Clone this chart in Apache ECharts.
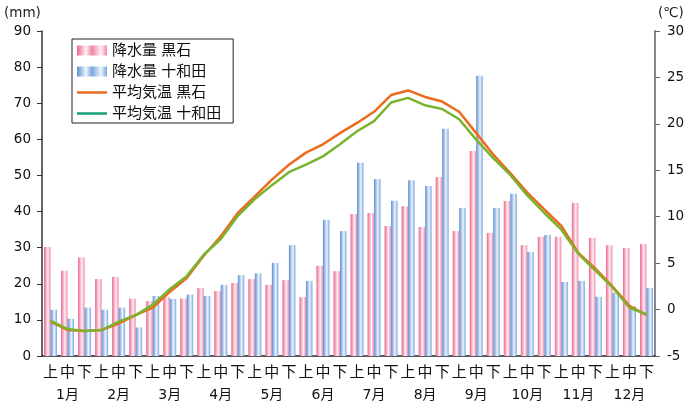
<!DOCTYPE html>
<html><head><meta charset="utf-8">
<script src="https://cdn.jsdelivr.net/npm/echarts@6/dist/echarts.min.js"></script>
<style>html,body{margin:0;padding:0;background:#fff}#c{width:699px;height:405px}</style>
</head><body><div id="c"></div>
<script>
const months = ['1月','2月','3月','4月','5月','6月','7月','8月','9月','10月','11月','12月'];
const periods = ['上','中','下'];
const rainKuroishi = [30.2,23.6,27.3, 21.3,21.9,15.9, 15.2,16.4,15.9, 18.8,18.0,20.2, 21.3,19.7,21.0, 16.3,25.0,23.5, 39.3,39.6,36.0, 41.5,35.7,49.6, 34.6,56.8,34.1, 42.9,30.7,33.0, 33.0,42.4,32.7, 30.7,29.9,31.0];
const rainTowada = [12.8,10.3,13.4, 12.8,13.4,7.9, 16.6,15.8,17.0, 16.6,19.7,22.4, 22.9,25.8,30.7, 20.8,37.7,34.6, 53.5,49.0,43.0, 48.7,47.1,62.9, 41.0,77.6,41.0, 44.9,28.8,33.5, 20.5,20.8,16.4, 17.5,13.8,18.8];
const tempKuroishi = [-1.3,-2.2,-2.3, -2.2,-1.5,-0.6, 0.2,1.9,3.4, 5.8,7.9,10.4, 12.2,14.0,15.6, 16.9,17.8,19.0, 20.1,21.3,23.1, 23.6,22.9,22.4, 21.3,19.0,16.7, 14.7,12.6,10.8, 9.0,6.1,4.4, 2.5,0.4,-0.6];
const tempTowada = [-1.2,-2.1,-2.3, -2.2,-1.3,-0.6, 0.5,2.2,3.6, 5.9,7.6,10.1, 11.9,13.4,14.8, 15.6,16.5,17.8, 19.2,20.3,22.3, 22.8,22.0,21.6, 20.5,18.3,16.3, 14.5,12.3,10.4, 8.6,6.0,4.2, 2.4,0.2,-0.5];

const cats = [];
months.forEach(m => periods.forEach(p => cats.push(m + p)));

const font = "'Liberation Sans','Noto Sans CJK JP',sans-serif";
const numFont = "'DejaVu Sans','Noto Sans CJK JP',sans-serif";
const pinkGrad = {type:'linear',x:0,y:0,x2:1,y2:0,colorStops:[{offset:0,color:'#e9658c'},{offset:0.6,color:'#fff0f4'},{offset:1,color:'#ef86a5'}]};
const blueGrad = {type:'linear',x:0,y:0,x2:1,y2:0,colorStops:[{offset:0,color:'#5a8ed2'},{offset:0.6,color:'#eef4fc'},{offset:1,color:'#79a5de'}]};
const pinkLeg = {type:'linear',x:0,y:0,x2:1,y2:0,colorStops:[{offset:0,color:'#e9658c'},{offset:0.3,color:'#fff0f4'},{offset:0.5,color:'#ef86a5'},{offset:0.8,color:'#fff0f4'},{offset:1,color:'#ef86a5'}]};
const blueLeg = {type:'linear',x:0,y:0,x2:1,y2:0,colorStops:[{offset:0,color:'#5a8ed2'},{offset:0.3,color:'#eef4fc'},{offset:0.5,color:'#79a5de'},{offset:0.8,color:'#eef4fc'},{offset:1,color:'#79a5de'}]};
const lineIcon = 'path://M0,0L0.01,0L0.01,0.01ZM29.99,10L30,10L30,9.99ZM0,3.8L30,3.8L30,6.2L0,6.2Z';

const chart = echarts.init(document.getElementById('c'), null, {renderer:'canvas'});
chart.setOption({
  animation:false,
  textStyle:{fontFamily:font},
  grid:{left:42,right:44,top:31,bottom:49},
  graphic:[
    {type:'text',left:4,top:7,style:{text:'(mm)',font:"13.5px "+numFont,fill:'#222'}},
    {type:'text',left:658,top:7,style:{text:'(℃)',font:"13.5px "+numFont,fill:'#222'}}
  ],
  legend:{
    left:72,top:39,orient:'vertical',
    borderColor:'#222',borderWidth:1,padding:[4,12,2,5],
    itemWidth:30,itemHeight:10,itemGap:6,
    textStyle:{fontSize:15,color:'#111',fontFamily:font},
    data:[
      {name:'降水量 黒石',icon:'rect',itemStyle:{color:pinkLeg}},
      {name:'降水量 十和田',icon:'rect',itemStyle:{color:blueLeg}},
      {name:'平均気温 黒石',icon:lineIcon,itemStyle:{color:'#ec6b1e'}},
      {name:'平均気温 十和田',icon:lineIcon,itemStyle:{color:'#15a078'}}
    ]
  },
  xAxis:[
    {type:'category',data:cats,position:'bottom',
     axisLine:{lineStyle:{color:'#222',width:1.5}},
     axisTick:{inside:true,length:6,interval:0,lineStyle:{color:'#555'}},
     axisLabel:{interval:0,margin:9,fontSize:15,color:'#111',formatter:(v,i)=>periods[i%3]}},
    {type:'category',data:months,position:'bottom',
     axisLine:{show:false},
     axisTick:{length:49,interval:0,lineStyle:{color:'#444',width:1.2}},
     axisLabel:{interval:0,margin:32,fontSize:14,color:'#111',fontFamily:numFont}}
  ],
  yAxis:[
    {type:'value',min:0,max:90,interval:10,
     axisLine:{show:true,lineStyle:{color:'#333',width:1.5}},
     axisTick:{show:true,length:5,lineStyle:{color:'#333'}},
     splitLine:{show:false},
     axisLabel:{fontSize:13.5,color:'#111',margin:11,fontFamily:numFont}},
    {type:'value',min:-5,max:30,interval:5,position:'right',
     axisLine:{show:true,lineStyle:{color:'#888',width:2}},
     axisTick:{show:true,length:5,lineStyle:{color:'#666'}},
     splitLine:{show:false},
     axisLabel:{fontSize:13.5,color:'#111',margin:12,fontFamily:numFont}}
  ],
  series:[
    {name:'降水量 黒石',type:'bar',data:rainKuroishi,barWidth:6.5,barGap:'0%',itemStyle:{color:pinkGrad}},
    {name:'降水量 十和田',type:'bar',data:rainTowada,barWidth:6.5,barGap:'0%',itemStyle:{color:blueGrad}},
    {name:'平均気温 黒石',type:'line',yAxisIndex:1,data:tempKuroishi,symbol:'none',lineStyle:{color:'#ec6b1e',width:2.5},itemStyle:{color:'#ec6b1e'}},
    {name:'平均気温 十和田',type:'line',yAxisIndex:1,data:tempTowada,symbol:'none',lineStyle:{color:'#7ab32f',width:2.5},itemStyle:{color:'#7ab32f'}}
  ]
});
</script></body></html>
